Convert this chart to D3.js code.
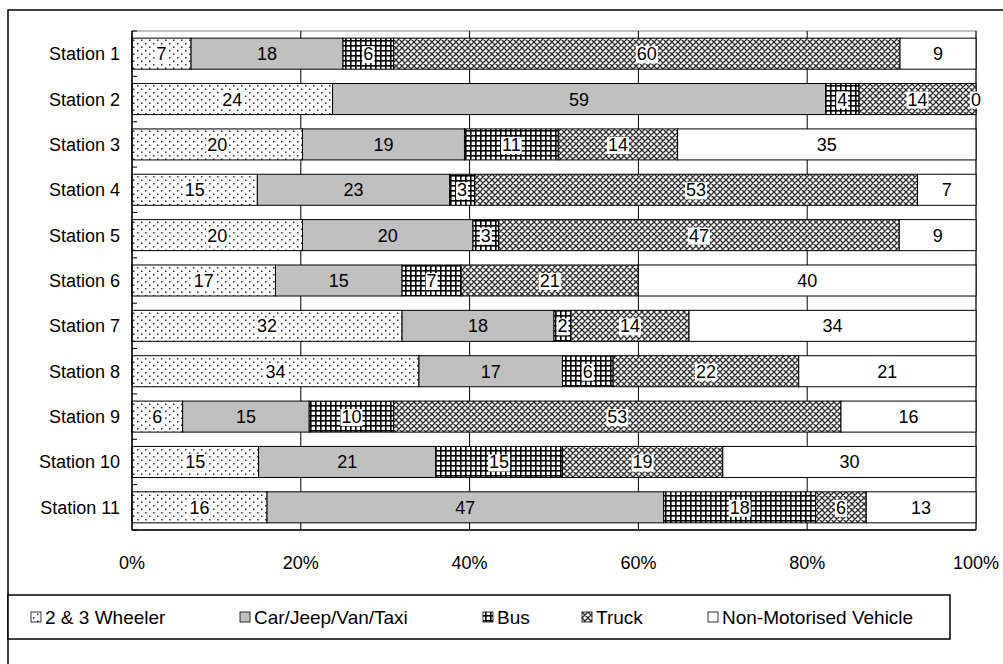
<!DOCTYPE html>
<html><head><meta charset="utf-8">
<script src="https://cdn.jsdelivr.net/npm/d3@7"></script>
<style>body{margin:0;background:#fff;}svg{display:block;font-family:"Liberation Sans",Arial,sans-serif;}</style>
</head><body><svg id="c" width="1003" height="664"></svg>
<script>
const stations = ["Station 1","Station 2","Station 3","Station 4","Station 5","Station 6","Station 7","Station 8","Station 9","Station 10","Station 11"];
const seriesNames = ["2 & 3 Wheeler","Car/Jeep/Van/Taxi","Bus","Truck","Non-Motorised Vehicle"];
const wheeler = [7,24,20,15,20,17,32,34,6,15,16];
const car     = [18,59,19,23,20,15,18,17,15,21,47];
const bus     = [6,4,11,3,3,7,2,6,10,15,18];
const truck   = [60,14,14,53,47,21,14,22,53,19,6];
const nmv     = [9,0,35,7,9,40,34,21,16,30,13];
const xTicks  = [0,0.2,0.4,0.6,0.8,1];

const keys = ["w","c","b","t","n"];
const rows = stations.map((s,i)=>({station:s,w:wheeler[i],c:car[i],b:bus[i],t:truck[i],n:nmv[i]}));
const stack = d3.stack().keys(keys).offset(d3.stackOffsetExpand)(rows);

const svg = d3.select("#c");
const defs = svg.append("defs");
// 2&3 wheeler dots
let p = defs.append("pattern").attr("id","pw").attr("patternUnits","userSpaceOnUse").attr("width",8).attr("height",7);
p.append("rect").attr("width",8).attr("height",7).attr("fill","#fff");
p.append("rect").attr("x",1).attr("y",1).attr("width",1.5).attr("height",1.5).attr("fill","#333");
p.append("rect").attr("x",5).attr("y",4.5).attr("width",1.5).attr("height",1.5).attr("fill","#333");
// bus grid
p = defs.append("pattern").attr("id","pb").attr("patternUnits","userSpaceOnUse").attr("width",5).attr("height",5);
p.append("rect").attr("width",5).attr("height",5).attr("fill","#fff");
p.append("rect").attr("x",0).attr("y",0).attr("width",5).attr("height",1.6).attr("fill","#000");
p.append("rect").attr("x",0).attr("y",0).attr("width",1.6).attr("height",5).attr("fill","#000");
// truck diagonal cross
p = defs.append("pattern").attr("id","pt").attr("patternUnits","userSpaceOnUse").attr("width",6).attr("height",6);
p.append("rect").attr("width",6).attr("height",6).attr("fill","#fff");
p.append("path").attr("d","M0,0L6,6M6,0L0,6M-1,5L1,7M5,-1L7,1M-1,1L1,-1M5,7L7,5").attr("stroke","#333").attr("stroke-width",1.4);

const fills = {w:"url(#pw)",c:"#c0c0c0",b:"url(#pb)",t:"url(#pt)",n:"#fff"};
const labelBg = {w:true,c:false,b:true,t:true,n:false};

const x0 = 132, x1 = 976, yTop = 31, yBot = 530;
const x = d3.scaleLinear().domain([0,1]).range([x0,x1]);
const y = d3.scaleBand().domain(stations).range([yTop,yBot]).paddingInner(0.316).paddingOuter(0.158);

// outer border
svg.append("rect").attr("x",8).attr("y",10).attr("width",1100).attr("height",800).attr("fill","none").attr("stroke","#000").attr("stroke-width",1.5);

// plot border
svg.append("rect").attr("x",x0).attr("y",yTop).attr("width",x1-x0).attr("height",yBot-yTop).attr("fill","none").attr("stroke","#808080").attr("stroke-width",1);

// gridlines
svg.append("g").selectAll("line").data(xTicks.slice(1)).join("line")
  .attr("x1",d=>x(d)).attr("x2",d=>x(d)).attr("y1",yTop).attr("y2",yBot)
  .attr("stroke","#000").attr("stroke-width",1);

// bars
const g = svg.append("g");
stack.forEach(s=>{
  g.append("g").selectAll("rect").data(s).join("rect")
   .attr("x",d=>x(d[0])).attr("width",d=>Math.max(0,x(d[1])-x(d[0])))
   .attr("y",d=>y(d.data.station)).attr("height",y.bandwidth())
   .attr("fill",fills[s.key]).attr("stroke","#000").attr("stroke-width",1);
});

// labels
const FS = 18;
const lg = svg.append("g").attr("font-size",FS);
stack.forEach(s=>{
  s.forEach(d=>{
    const v = d.data[s.key];
    const cx = (x(d[0])+x(d[1]))/2, cy = y(d.data.station)+y.bandwidth()/2;
    const t = lg.append("text").attr("x",cx).attr("y",cy+6.5).attr("text-anchor","middle").attr("fill","#000").text(v);
    if(labelBg[s.key] || v===0){
      const bb = t.node().getBBox();
      lg.insert("rect","text:last-child").attr("x",bb.x-1).attr("y",bb.y+2).attr("width",bb.width+2).attr("height",bb.height-3).attr("fill","#fff");
    }
  });
});

// y axis line with inward ticks
const ax = svg.append("g");
ax.append("line").attr("x1",x0).attr("x2",x0).attr("y1",yTop).attr("y2",yBot).attr("stroke","#000").attr("stroke-width",1.5);
ax.append("line").attr("x1",x0).attr("x2",x1).attr("y1",yBot).attr("y2",yBot).attr("stroke","#000").attr("stroke-width",1.5);
const bounds = stations.map(s=>y(s)-y.step()*y.paddingInner()/2).concat([yBot]);
ax.selectAll("line.tk").data(bounds).join("line").attr("class","tk")
  .attr("x1",x0).attr("x2",x0+5).attr("y1",d=>d).attr("y2",d=>d).attr("stroke","#000");
ax.selectAll("text.yl").data(stations).join("text").attr("class","yl")
  .attr("x",120).attr("y",d=>y(d)+y.bandwidth()/2+6.5).attr("text-anchor","end").attr("font-size",FS).text(d=>d);

// x tick labels
ax.selectAll("text.xl").data(xTicks).join("text").attr("class","xl")
  .attr("x",d=>x(d)).attr("y",569).attr("text-anchor","middle").attr("font-size",FS).text(d3.format(".0%"));

// legend
const leg = svg.append("g");
leg.append("rect").attr("x",8).attr("y",595).attr("width",942).attr("height",44).attr("fill","#fff").attr("stroke","#000").attr("stroke-width",1.5);
const legX = [31, 240, 483, 582, 708];
keys.forEach((k,i)=>{
  leg.append("rect").attr("x",legX[i]).attr("y",612).attr("width",10).attr("height",10).attr("fill",fills[k]).attr("stroke","#000").attr("stroke-width",0.8);
  leg.append("text").attr("x",legX[i]+14).attr("y",623.5).attr("font-size",19).text(seriesNames[i]);
});
</script></body></html>
